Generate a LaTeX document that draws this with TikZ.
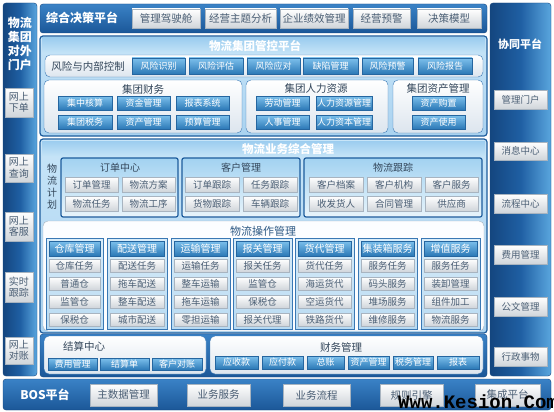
\documentclass[tikz,border=0pt]{standalone}
\usepackage{fontspec}
\setmainfont{Noto Sans CJK SC}
\newfontfamily\wmfont{Liberation Mono}
\definecolor{dka}{HTML}{14467F}
\definecolor{dkm}{HTML}{1F5FA3}
\definecolor{dkc}{HTML}{5AA6DE}
\definecolor{dkl}{HTML}{3A82C6}
\definecolor{dkd}{HTML}{1B5798}
\definecolor{bline}{HTML}{1D5C9C}
\definecolor{btop}{HTML}{7CC0EC}
\definecolor{bbot}{HTML}{2B78B6}
\definecolor{bdraw}{HTML}{2566A0}
\definecolor{gbot}{HTML}{D0D5DA}
\definecolor{gdraw}{HTML}{A8B4C0}
\definecolor{gtext}{HTML}{4A5E74}
\definecolor{ibot}{HTML}{DCE5EE}
\definecolor{idraw}{HTML}{3A78B4}
\definecolor{ptop}{HTML}{C8E5F8}
\definecolor{pbot}{HTML}{A9D2F0}
\definecolor{htop}{HTML}{9CCDEF}
\definecolor{hbot}{HTML}{C4E3F7}
\definecolor{stop}{HTML}{A2D2F1}
\definecolor{sbot}{HTML}{E8F4FB}
\definecolor{ctop}{HTML}{D8ECF9}
\definecolor{cbot}{HTML}{B8DAF2}
\definecolor{ttext}{HTML}{33465A}
\definecolor{otext}{HTML}{2F5A85}
\newcommand\bx[7]{\node[#1,minimum width={(#5)-(#3)},minimum height={(#6)-(#4)}] (#2) at ({((#3)+(#5))/2},{-((#4)+(#6))/2}) {#7};}
\begin{document}
\begin{tikzpicture}[x=1pt,y=1pt,
 base/.style={inner sep=0pt,outer sep=0pt,align=center},
 dkv/.style={base,draw=dka,rounded corners=3pt,left color=dka,right color=dkc,middle color=dkm},
 dkh/.style={base,draw=dka,rounded corners=3pt,top color=dkl,bottom color=dkd},
 bluebtn/.style={base,draw=bdraw,top color=btop,bottom color=bbot,text=white,font=\fontsize{9}{10}\selectfont},
 graybtn/.style={base,draw=gdraw,top color=white,bottom color=gbot,text=gtext,font=\fontsize{9.5}{10}\selectfont},
 topbtn/.style={graybtn,font=\fontsize{10.5}{11}\selectfont},
 sidebtn/.style={graybtn,font=\fontsize{10}{11.5}\selectfont},
 inbox/.style={base,draw=idraw,rounded corners=5pt,top color=white,bottom color=ibot},
 panel/.style={base,draw=bline,line width=1.2pt,rounded corners=3pt,top color=ptop,bottom color=pbot},
 hband/.style={base,top color=htop,bottom color=hbot},
 subbox/.style={base,draw=bline,line width=1.2pt,rounded corners=2pt,top color=stop,bottom color=sbot},
 opbox/.style={base,draw=gdraw,rounded corners=5pt,fill=white!94!ptop},
 opcol/.style={base,draw=idraw,line width=0.8pt,top color=ctop,bottom color=cbot},
 optab/.style={bluebtn,font=\fontsize{10}{11}\selectfont},
 lbl/.style={inner sep=0pt,outer sep=0pt,align=center},
 wtitle/.style={lbl,text=white,font=\bfseries\fontsize{12}{14}\selectfont},
 btitle/.style={lbl,text=ttext,font=\fontsize{10.5}{12}\selectfont}
]
\useasboundingbox (0,0) rectangle (554,-412);
\fill[white] (0,0) rectangle (554,-412);
% left column
\bx{dkv}{lcol}{3}{3}{37}{376}{}
\node[wtitle] (ltitle) at (20,-44) {物流\\集团\\对外\\门户};
\bx{sidebtn}{l1}{5}{88}{33}{117}{网上\\下单}
\bx{sidebtn}{l2}{5}{154}{33}{182}{网上\\查询}
\bx{sidebtn}{l3}{5}{212}{33}{241}{网上\\客服}
\bx{sidebtn}{l4}{5}{272}{33}{302}{实时\\跟踪}
\bx{sidebtn}{l5}{5}{337}{33}{364}{网上\\对账}
% right column
\bx{dkv}{rcol}{490}{3}{551}{376}{}
\node[wtitle,font=\bfseries\fontsize{11}{13}\selectfont] (rtitle) at (520,-44) {协同平台};
\bx{graybtn}{r1}{494}{90}{547}{109}{管理门户}
\bx{graybtn}{r2}{494}{142}{547}{160}{消息中心}
\bx{graybtn}{r3}{494}{194}{547}{213}{流程中心}
\bx{graybtn}{r4}{494}{245}{547}{264}{费用管理}
\bx{graybtn}{r5}{494}{297}{547}{316}{公文管理}
\bx{graybtn}{r6}{494}{347}{547}{366}{行政事物}
% top bar
\bx{dkh}{topbar}{40}{4}{487}{33}{}
\node[wtitle] (ttitle) at (82,-18) {综合决策平台};
\bx{topbtn}{t1}{132}{9}{200}{28}{管理驾驶舱}
\bx{topbtn}{t2}{205}{9}{276}{28}{经营主题分析}
\bx{topbtn}{t3}{280}{9}{348}{28}{企业绩效管理}
\bx{topbtn}{t4}{353}{9}{410}{28}{经营预警}
\bx{topbtn}{t5}{417}{9}{481}{28}{决策模型}
% management panel
\bx{panel}{mgp}{40}{36}{487}{136}{}
\bx{hband}{mgh}{42}{38}{485}{53}{}
\node[wtitle,font=\bfseries\fontsize{11.5}{13}\selectfont] (mgt) at (255,-46) {物流集团管控平台};
\bx{inbox}{risk}{45}{55}{483}{77}{}
\node[btitle] (riskt) at (88,-66) {风险与内部控制};
\bx{bluebtn}{k1}{132}{58}{185}{74}{风险识别}
\bx{bluebtn}{k2}{189}{58}{243}{74}{风险评估}
\bx{bluebtn}{k3}{247}{58}{300}{74}{风险应对}
\bx{bluebtn}{k4}{303}{58}{358}{74}{缺陷管理}
\bx{bluebtn}{k5}{362}{58}{413}{74}{风险预警}
\bx{bluebtn}{k6}{418}{58}{472}{74}{风险报告}
\bx{inbox}{fin}{44}{80}{242}{133}{}
\node[btitle] (fint) at (143,-89) {集团财务};
\bx{bluebtn}{f1}{58}{96}{112}{110}{集中核算}
\bx{bluebtn}{f2}{117}{96}{170}{110}{资金管理}
\bx{bluebtn}{f3}{176}{96}{229}{110}{报表系统}
\bx{bluebtn}{f4}{58}{115}{112}{129}{集团税务}
\bx{bluebtn}{f5}{117}{115}{170}{129}{资产管理}
\bx{bluebtn}{f6}{176}{115}{229}{129}{预算管理}
\bx{inbox}{hr}{246}{80}{388}{133}{}
\node[btitle] (hrt) at (316,-89) {集团人力资源};
\bx{bluebtn}{h1}{256}{96}{309}{110}{劳动管理}
\bx{bluebtn}{h2}{316}{96}{372}{110}{人力资源管理}
\bx{bluebtn}{h3}{256}{115}{309}{129}{人事管理}
\bx{bluebtn}{h4}{316}{115}{372}{129}{人力资本管理}
\bx{inbox}{ast}{393}{80}{483}{133}{}
\node[btitle] (astt) at (438,-89) {集团资产管理};
\bx{bluebtn}{a1}{412}{96}{465}{110}{资产购置}
\bx{bluebtn}{a2}{412}{115}{465}{129}{资产使用}
% business panel
\bx{panel}{bzp}{40}{139}{487}{333}{}
\bx{hband}{bzh}{42}{141}{485}{156}{}
\node[wtitle,font=\bfseries\fontsize{11.5}{13}\selectfont] (bzt) at (288,-149) {物流业务综合管理};
\node[lbl,text=ttext,font=\fontsize{10}{12}\selectfont] (plan) at (52,-187) {物\\流\\计\\划};
\bx{subbox}{ord}{61}{158}{178}{217}{}
\node[btitle,font=\fontsize{10}{12}\selectfont] (ordt) at (120,-168) {订单中心};
\bx{graybtn}{o1}{65}{177}{118}{192}{订单管理}
\bx{graybtn}{o2}{122}{177}{175}{192}{物流方案}
\bx{graybtn}{o3}{65}{196}{118}{211}{物流任务}
\bx{graybtn}{o4}{122}{196}{175}{211}{物流工序}
\bx{subbox}{cus}{182}{158}{300}{217}{}
\node[btitle,font=\fontsize{10}{12}\selectfont] (cust) at (241,-168) {客户管理};
\bx{graybtn}{c1}{185}{177}{239}{192}{订单跟踪}
\bx{graybtn}{c2}{243}{177}{297}{192}{任务跟踪}
\bx{graybtn}{c3}{185}{196}{239}{211}{货物跟踪}
\bx{graybtn}{c4}{243}{196}{297}{211}{车辆跟踪}
\bx{subbox}{trk}{304}{158}{482}{217}{}
\node[btitle,font=\fontsize{10}{12}\selectfont] (trkt) at (393,-168) {物流跟踪};
\bx{graybtn}{g1}{309}{177}{363}{192}{客户档案}
\bx{graybtn}{g2}{367}{177}{421}{192}{客户机构}
\bx{graybtn}{g3}{425}{177}{478}{192}{客户服务}
\bx{graybtn}{g4}{309}{196}{363}{211}{收发货人}
\bx{graybtn}{g5}{367}{196}{421}{211}{合同管理}
\bx{graybtn}{g6}{425}{196}{478}{211}{供应商}
% operations
\bx{opbox}{opb}{43}{221}{484}{331}{}
\node[lbl,text=otext,font=\fontsize{11}{13}\selectfont] (opt) at (263,-231) {物流操作管理};
\bx{opcol}{oc1}{46}{238}{103}{329}{}
\bx{optab}{oh1}{49}{241}{100}{256}{仓库管理}
\bx{graybtn}{o11}{49}{259}{100}{272}{仓库任务}
\bx{graybtn}{o12}{49}{277}{100}{290}{普通仓}
\bx{graybtn}{o13}{49}{295}{100}{308}{监管仓}
\bx{graybtn}{o14}{49}{313}{100}{326}{保税仓}
\bx{opcol}{oc2}{107}{238}{167}{329}{}
\bx{optab}{oh2}{110}{241}{164}{256}{配送管理}
\bx{graybtn}{o21}{110}{259}{164}{272}{配送任务}
\bx{graybtn}{o22}{110}{277}{164}{290}{拖车配送}
\bx{graybtn}{o23}{110}{295}{164}{308}{整车配送}
\bx{graybtn}{o24}{110}{313}{164}{326}{城市配送}
\bx{opcol}{oc3}{171}{238}{230}{329}{}
\bx{optab}{oh3}{174}{241}{227}{256}{运输管理}
\bx{graybtn}{o31}{174}{259}{227}{272}{运输任务}
\bx{graybtn}{o32}{174}{277}{227}{290}{整车运输}
\bx{graybtn}{o33}{174}{295}{227}{308}{拖车运输}
\bx{graybtn}{o34}{174}{313}{227}{326}{零担运输}
\bx{opcol}{oc4}{233}{238}{292}{329}{}
\bx{optab}{oh4}{236}{241}{289}{256}{报关管理}
\bx{graybtn}{o41}{236}{259}{289}{272}{报关任务}
\bx{graybtn}{o42}{236}{277}{289}{290}{监管仓}
\bx{graybtn}{o43}{236}{295}{289}{308}{保税仓}
\bx{graybtn}{o44}{236}{313}{289}{326}{报关代理}
\bx{opcol}{oc5}{295}{238}{354}{329}{}
\bx{optab}{oh5}{298}{241}{351}{256}{货代管理}
\bx{graybtn}{o51}{298}{259}{351}{272}{货代任务}
\bx{graybtn}{o52}{298}{277}{351}{290}{海运货代}
\bx{graybtn}{o53}{298}{295}{351}{308}{空运货代}
\bx{graybtn}{o54}{298}{313}{351}{326}{铁路货代}
\bx{opcol}{oc6}{358}{238}{417}{329}{}
\bx{optab}{oh6}{361}{241}{414}{256}{集装箱服务}
\bx{graybtn}{o61}{361}{259}{414}{272}{服务任务}
\bx{graybtn}{o62}{361}{277}{414}{290}{码头服务}
\bx{graybtn}{o63}{361}{295}{414}{308}{堆场服务}
\bx{graybtn}{o64}{361}{313}{414}{326}{维修服务}
\bx{opcol}{oc7}{421}{238}{480}{329}{}
\bx{optab}{oh7}{424}{241}{477}{256}{增值服务}
\bx{graybtn}{o71}{424}{259}{477}{272}{服务任务}
\bx{graybtn}{o72}{424}{277}{477}{290}{装卸管理}
\bx{graybtn}{o73}{424}{295}{477}{308}{组件加工}
\bx{graybtn}{o74}{424}{313}{477}{326}{物流服务}
% settlement
\bx{dkh}{stp}{40}{334}{487}{377}{}
\bx{inbox}{set}{44}{336}{206}{374}{}
\node[btitle] (sett) at (84,-346) {结算中心};
\bx{bluebtn}{s1}{48}{358}{97}{370}{费用管理}
\bx{bluebtn}{s2}{100}{358}{149}{370}{结算单}
\bx{bluebtn}{s3}{152}{358}{202}{370}{客户对账}
\bx{inbox}{fm}{210}{336}{483}{374}{}
\node[btitle] (fmt) at (341,-347) {财务管理};
\bx{bluebtn}{m1}{215}{356}{258}{369}{应收款}
\bx{bluebtn}{m2}{262}{356}{303}{369}{应付款}
\bx{bluebtn}{m3}{307}{356}{344}{369}{总账}
\bx{bluebtn}{m4}{348}{356}{389}{369}{资产管理}
\bx{bluebtn}{m5}{393}{356}{433}{369}{税务管理}
\bx{bluebtn}{m6}{437}{356}{479}{369}{报表}
% BOS bar
\bx{dkh}{bos}{3}{379}{551}{410}{}
\node[wtitle] (bost) at (45,-395) {BOS平台};
\bx{topbtn}{p1}{90}{384}{157}{406}{主数据管理}
\bx{topbtn}{p2}{187}{384}{250}{406}{业务服务}
\bx{topbtn}{p3}{283}{384}{350}{406}{业务流程}
\bx{topbtn}{p4}{380}{384}{443}{406}{规则引擎}
\bx{topbtn}{p5}{475}{384}{540}{406}{集成平台}
% watermark
\node[anchor=base west,inner sep=0pt,font=\wmfont\bfseries\fontsize{19}{20}\selectfont] (wm) at (398,-408) {Www.Kesion.Com};
\end{tikzpicture}
\end{document}
